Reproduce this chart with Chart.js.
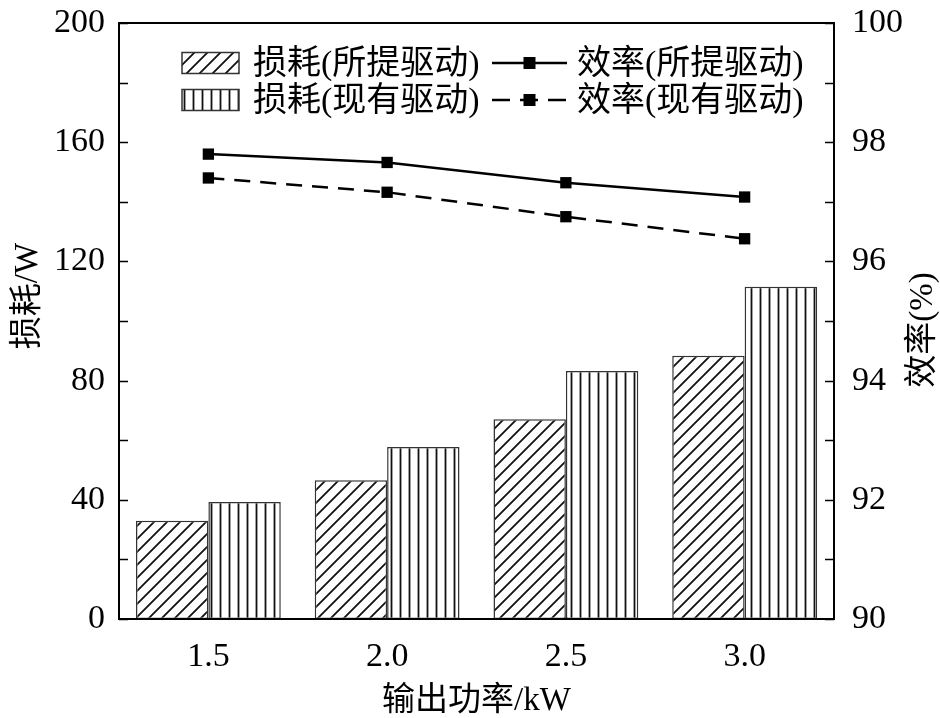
<!DOCTYPE html>
<html>
<head>
<meta charset="utf-8">
<script src="https://cdn.jsdelivr.net/npm/chart.js@4.4.1/dist/chart.umd.min.js"></script>
<style>
  html, body { margin: 0; padding: 0; background: #fff; }
</style>
</head>
<body>
<canvas id="c" width="940" height="718"></canvas>
<script>
// data
const categories = ['1.5', '2.0', '2.5', '3.0'];
const lossProposed = [33, 46.6, 67, 88.3];
const lossExisting = [39.3, 57.7, 83.2, 111.5];
const effProposed = [97.8, 97.66, 97.32, 97.08];
const effExisting = [97.4, 97.16, 96.75, 96.38];
const seriesNames = ['损耗(所提驱动)', '损耗(现有驱动)', '效率(所提驱动)', '效率(现有驱动)'];

const FONT = '"Liberation Serif", "Noto Sans CJK SC", serif';
Chart.defaults.font.family = FONT;
Chart.defaults.color = '#000';

// hatch fills
function makeHatch() {
  const s = 13;
  const c = document.createElement('canvas');
  c.width = s; c.height = s;
  const g = c.getContext('2d');
  g.fillStyle = '#fff'; g.fillRect(0, 0, s, s);
  g.strokeStyle = '#111'; g.lineWidth = 1.8;
  g.beginPath();
  g.moveTo(0, s); g.lineTo(s, 0);
  g.moveTo(-2, 2); g.lineTo(2, -2);
  g.moveTo(s - 2, s + 2); g.lineTo(s + 2, s - 2);
  g.stroke();
  return g.createPattern(c, 'repeat');
}
function makeStripes() {
  const c = document.createElement('canvas');
  c.width = 9; c.height = 9;
  const g = c.getContext('2d');
  g.fillStyle = '#fff'; g.fillRect(0, 0, 9, 9);
  g.strokeStyle = '#111'; g.lineWidth = 1.8;
  g.beginPath(); g.moveTo(4.5, 0); g.lineTo(4.5, 9); g.stroke();
  return g.createPattern(c, 'repeat');
}
const hatch = makeHatch();
const stripes = makeStripes();

// frame, inward ticks, y titles, legend
const decor = {
  id: 'decor',
  afterDraw(chart) {
    const ctx = chart.ctx;
    const a = chart.chartArea;
    ctx.save();
    ctx.strokeStyle = '#000';
    ctx.lineWidth = 2;
    ctx.strokeRect(a.left, a.top, a.right - a.left, a.bottom - a.top);

    // tick marks pointing into the plot
    ctx.lineWidth = 1.5;
    const yl = chart.scales.y, yr = chart.scales.y1;
    ctx.beginPath();
    yl.ticks.forEach(t => {
      const p = Math.round(yl.getPixelForValue(t.value)) + 0.5;
      ctx.moveTo(a.left, p); ctx.lineTo(a.left + 9, p);
    });
    yr.ticks.forEach(t => {
      const p = Math.round(yr.getPixelForValue(t.value)) + 0.5;
      ctx.moveTo(a.right, p); ctx.lineTo(a.right - 9, p);
    });
    ctx.stroke();

    // both y titles read upwards
    ctx.fillStyle = '#000';
    ctx.font = '33px ' + FONT;
    ctx.textAlign = 'center';
    ctx.textBaseline = 'middle';
    [[28, 296, '损耗/W'], [923, 330, '效率(%)']].forEach(([x, y, txt]) => {
      ctx.save();
      ctx.translate(x, y);
      ctx.rotate(-Math.PI / 2);
      ctx.fillText(txt, 0, 0);
      ctx.restore();
    });
    ctx.restore();

    // legend
    ctx.save();
    const rows = [a.top + 40, a.top + 77];
    const bx = a.left + 63, bw = 57, bh = 21;
    ctx.font = '34px ' + FONT;
    ctx.textAlign = 'left';
    ctx.textBaseline = 'middle';
    [hatch, stripes].forEach((pat, i) => {
      const y = rows[i];
      ctx.fillStyle = pat;
      ctx.fillRect(bx, y - bh / 2, bw, bh);
      ctx.strokeStyle = '#333'; ctx.lineWidth = 1.5;
      ctx.strokeRect(bx, y - bh / 2, bw, bh);
      ctx.fillStyle = '#000';
      ctx.fillText(seriesNames[i], bx + 71, y + 2);
    });
    const lx = a.left + 373, lw = 75;
    [[], [18, 10]].forEach((dash, i) => {
      const y = rows[i];
      ctx.strokeStyle = '#000'; ctx.lineWidth = 2.5;
      ctx.setLineDash(dash);
      ctx.beginPath(); ctx.moveTo(lx, y); ctx.lineTo(lx + lw, y); ctx.stroke();
      ctx.setLineDash([]);
      ctx.fillStyle = '#000';
      ctx.fillRect(lx + lw / 2 - 6, y - 6, 12, 12);
      ctx.fillText(seriesNames[i + 2], lx + lw + 10, y + 2);
    });
    ctx.restore();
  }
};

// fixed box sizes so the plot area lands where it does in the picture
function fitY(width) {
  return (s) => { s.width = width; s.paddingTop = 0; s.paddingBottom = 0; };
}

new Chart(document.getElementById('c'), {
  data: {
    labels: categories,
    datasets: [
      {
        type: 'bar', label: seriesNames[0], data: lossProposed, yAxisID: 'y',
        backgroundColor: hatch, borderColor: '#333', borderWidth: 1.5, borderSkipped: false,
        categoryPercentage: 0.81, barPercentage: 1, order: 2,
      },
      {
        type: 'bar', label: seriesNames[1], data: lossExisting, yAxisID: 'y',
        backgroundColor: stripes, borderColor: '#333', borderWidth: 1.5, borderSkipped: false,
        categoryPercentage: 0.81, barPercentage: 1, order: 2,
      },
      {
        type: 'line', label: seriesNames[2], data: effProposed, yAxisID: 'y1',
        borderColor: '#000', borderWidth: 2.5, backgroundColor: '#000',
        pointStyle: 'rect', pointRadius: 8, pointBorderWidth: 0, order: 1,
      },
      {
        type: 'line', label: seriesNames[3], data: effExisting, yAxisID: 'y1',
        borderColor: '#000', borderWidth: 2.5, borderDash: [16, 10], backgroundColor: '#000',
        pointStyle: 'rect', pointRadius: 8, pointBorderWidth: 0, order: 1,
      },
    ],
  },
  options: {
    responsive: false,
    animation: false,
    devicePixelRatio: 1,
    layout: { padding: { top: 23, left: 0, right: 0, bottom: 0 } },
    plugins: { legend: { display: false }, tooltip: { enabled: false } },
    events: [],
    scales: {
      x: {
        offset: true,
        grid: { display: false },
        border: { display: false },
        ticks: { font: { size: 34 }, padding: 10 },
        title: { display: true, text: '输出功率/kW', font: { size: 33 }, padding: { top: 0, bottom: -3 } },
        afterFit: (s) => { s.height = 99; },
      },
      y: {
        position: 'left',
        min: 0, max: 200,
        grid: { display: false },
        border: { display: false },
        ticks: {
          stepSize: 20, font: { size: 34 }, padding: 6,
          callback: (v) => (v % 40 === 0 ? v : ''),
        },
        afterFit: fitY(119),
      },
      y1: {
        position: 'right',
        min: 90, max: 100,
        grid: { display: false },
        border: { display: false },
        ticks: {
          stepSize: 1, font: { size: 34 }, padding: 10,
          callback: (v) => (v % 2 === 0 ? v : ''),
        },
        afterFit: fitY(106),
      },
    },
  },
  plugins: [decor],
});
</script>
</body>
</html>
